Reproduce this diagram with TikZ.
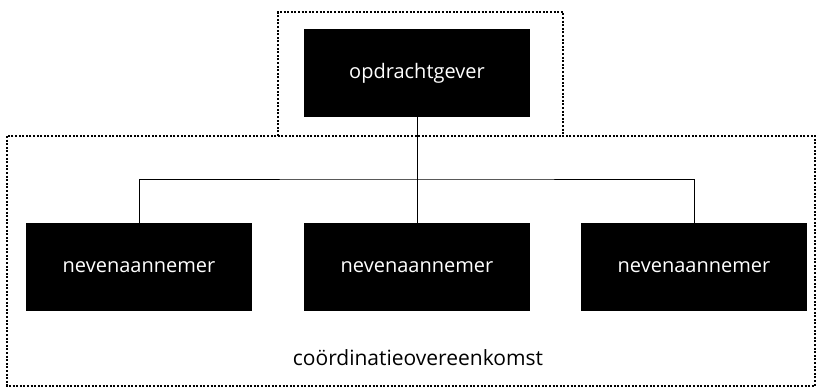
\documentclass[tikz,border=0pt]{standalone}
\usepackage{fontspec}
\setmainfont{Open Sans}
\begin{document}
\begin{tikzpicture}[x=1pt,y=-1pt,
  party/.style={fill=black,text=white,minimum width=226pt,minimum height=88pt,inner sep=0pt,font=\fontsize{20}{24}\selectfont},
  zone/.style={line width=2pt,dash pattern=on 2pt off 1.6pt},
  link/.style={line width=0.9pt}]
\useasboundingbox (0,0) rectangle (817,391);
% dotted zones: the upper one shares its bottom edge with the lower one
\draw[zone] (278,136) -- (278,12) -- (563,12) -- (563,136);
\draw[zone] (7,136) rectangle (815,386);
% parties
\node[party] (og) at (417,73) {opdrachtgever};
\node[party] (n1) at (139,267) {nevenaannemer};
\node[party] (n2) at (417,267) {nevenaannemer};
\node[party] (n3) at (694,267) {nevenaannemer};
\coordinate (bus) at (417,179);
\draw[link] (og.south) -- (bus);
\draw[link] (n1.north) |- (bus) -| (n3.north);
\draw[link] (bus) -- (n2.north);
\node[font=\fontsize{21}{25}\selectfont] (lbl) at (418,358) {coördinatieovereenkomst};
\end{tikzpicture}
\end{document}
